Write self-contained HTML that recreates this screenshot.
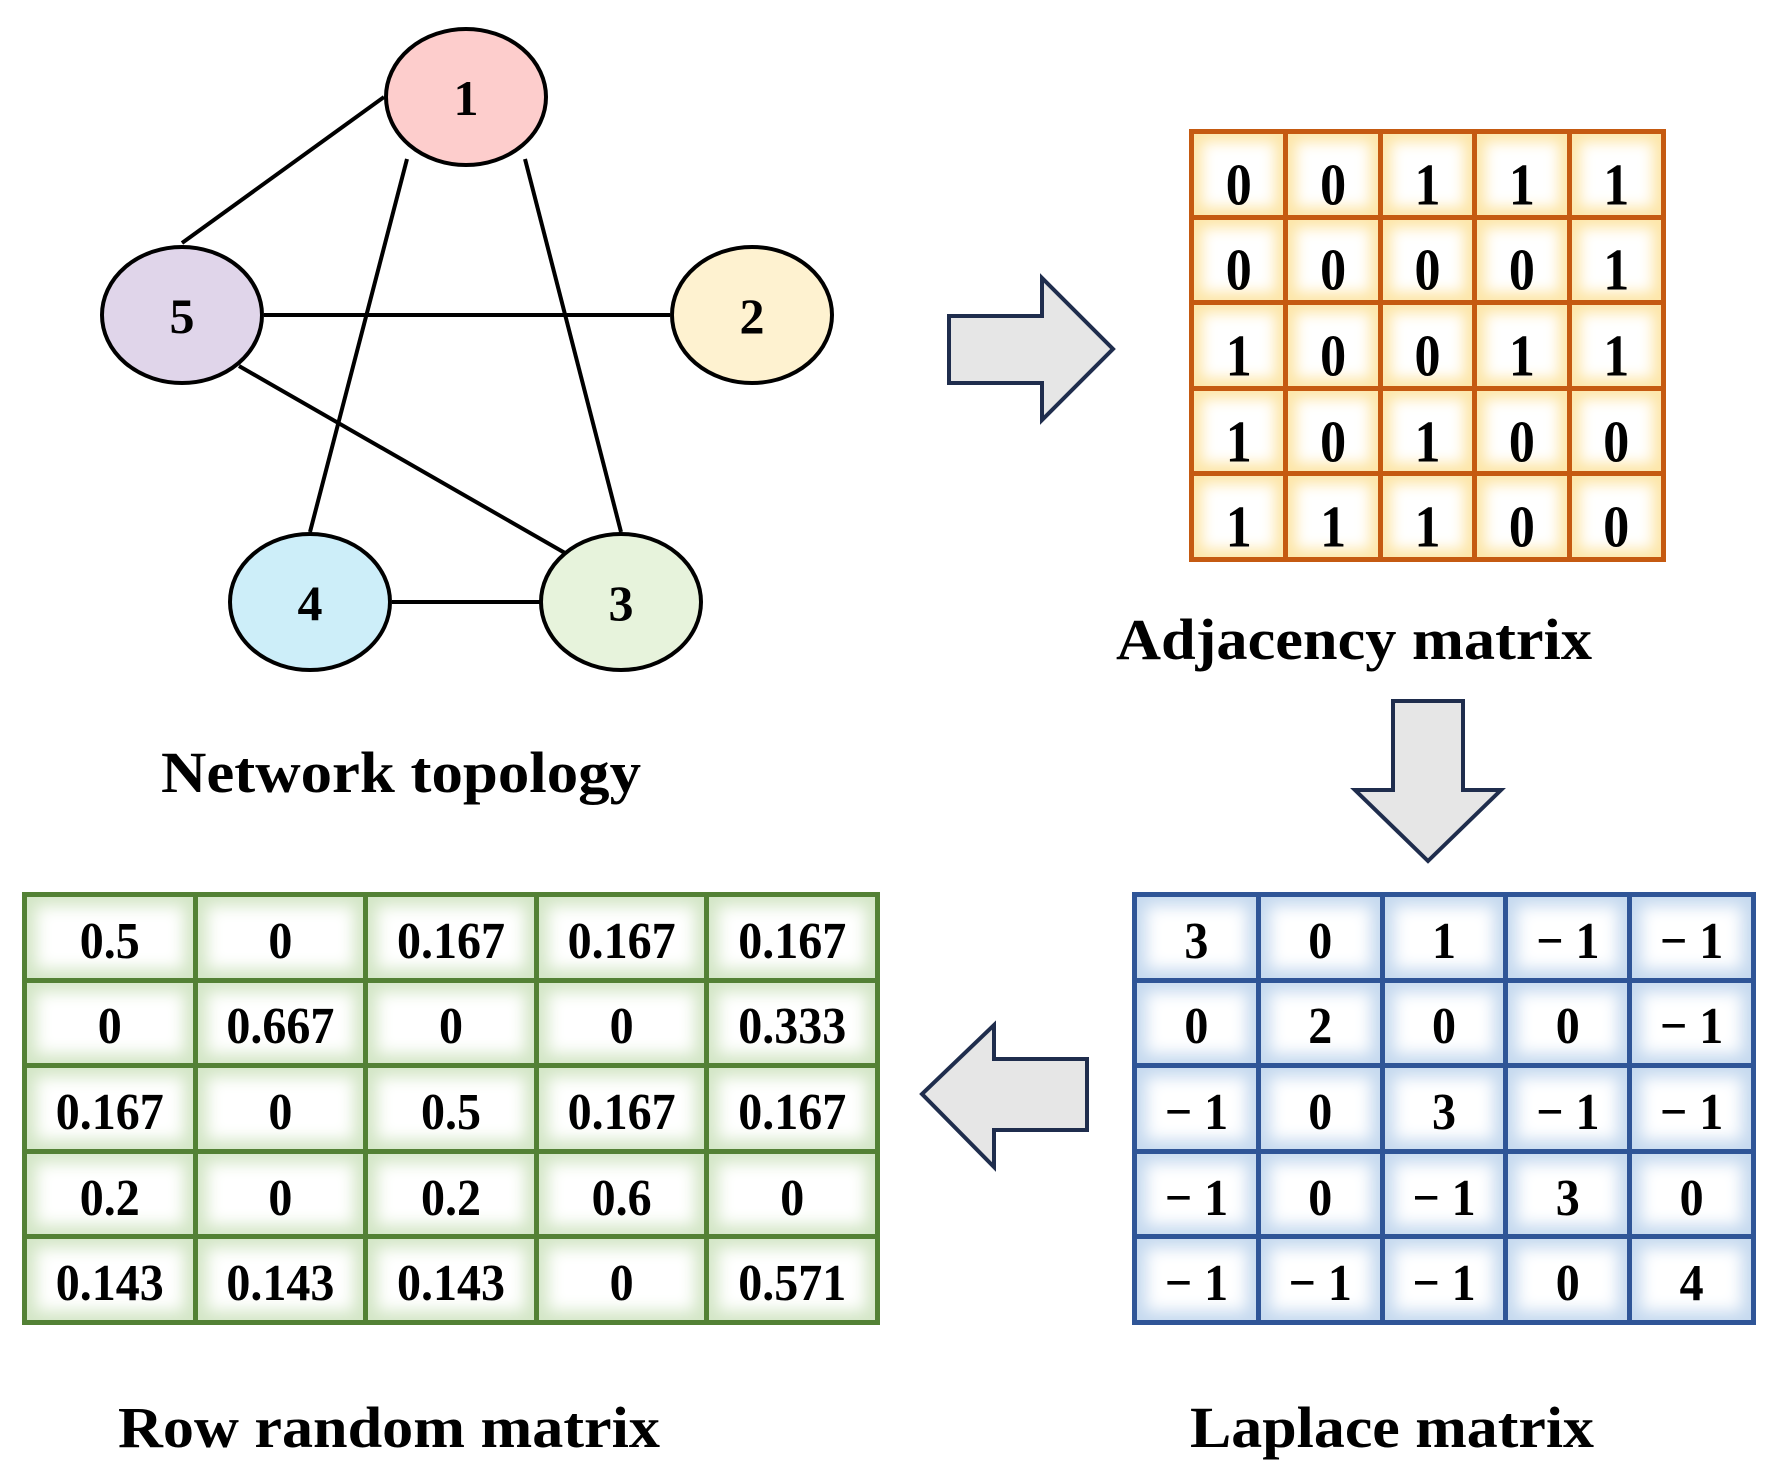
<!DOCTYPE html>
<html><head><meta charset="utf-8"><style>
body{margin:0;width:1778px;height:1479px;background:#fff;position:relative;overflow:hidden;font-family:"Liberation Serif",serif;}
.m{position:absolute;display:grid;box-sizing:border-box;gap:5px;padding:5px;}
.m div{background:#fff;display:flex;align-items:center;justify-content:center;font-weight:bold;color:#000;}
.m div span{display:inline-block;}
.a{left:1189px;top:129px;width:477px;height:433px;background:#c55a11;grid-template-columns:repeat(5,1fr);grid-template-rows:repeat(5,1fr);}
.a div{box-shadow:inset 0 0 14px 8px #fde6a8;font-size:52px;}
.a div span{transform:translateY(11px) scaleY(1.15);}
.l{left:1132px;top:892px;width:624px;height:433px;background:#2f5597;grid-template-columns:repeat(5,1fr);grid-template-rows:repeat(5,1fr);}
.l div{box-shadow:inset 0 0 16px 9px #c5d9ef;font-size:48px;}
.l div span,.r div span{transform:translateY(4px) scaleY(1.08);}
.r{left:22px;top:892px;width:858px;height:433px;background:#538135;grid-template-columns:repeat(5,1fr);grid-template-rows:repeat(5,1fr);}
.r div{box-shadow:inset 0 0 16px 9px #d3e6c6;font-size:48px;}
svg{position:absolute;left:0;top:0;}
</style></head><body>
<svg width="1778" height="1479" viewBox="0 0 1778 1479" font-family="Liberation Serif, serif" font-weight="bold">
<g stroke="#000" stroke-width="4" fill="none">
<line x1="384" y1="97" x2="182" y2="243"/>
<line x1="407" y1="159" x2="310" y2="532"/>
<line x1="525" y1="159" x2="621" y2="532"/>
<line x1="264" y1="315" x2="670" y2="315"/>
<line x1="239" y1="366" x2="565" y2="553"/>
<line x1="392" y1="602" x2="540" y2="602"/>
</g>
<g stroke="#000" stroke-width="4">
<ellipse cx="466" cy="97" rx="80" ry="68" fill="#fdcdcc"/>
<ellipse cx="182" cy="315" rx="80" ry="68" fill="#e0d5ea"/>
<ellipse cx="752" cy="315" rx="80" ry="68" fill="#fef2d0"/>
<ellipse cx="310" cy="602" rx="80" ry="68" fill="#cdeef9"/>
<ellipse cx="621" cy="602" rx="80" ry="68" fill="#e7f3dc"/>
</g>
<g font-size="50" text-anchor="middle">
<text x="466" y="115">1</text><text x="182" y="333">5</text><text x="752" y="333">2</text>
<text x="310" y="620">4</text><text x="621" y="620">3</text>
</g>
<g fill="#e6e6e6" stroke="#1f2d4d" stroke-width="4" stroke-linejoin="miter">
<polygon points="949,316 1042,316 1042,278 1113,349 1042,420 1042,383 949,383"/>
<polygon points="1393,701 1463,701 1463,790 1501,790 1428,861 1355,790 1393,790"/>
<polygon points="1087,1059 994,1059 994,1025 922,1094 994,1167 994,1130 1087,1130"/>
</g>
<g font-size="58" text-anchor="middle">
<text x="401" y="792" textLength="480" lengthAdjust="spacingAndGlyphs">Network topology</text>
<text x="1354" y="659" textLength="476" lengthAdjust="spacingAndGlyphs">Adjacency matrix</text>
<text x="1392" y="1447" textLength="404" lengthAdjust="spacingAndGlyphs">Laplace matrix</text>
<text x="389" y="1447" textLength="542" lengthAdjust="spacingAndGlyphs">Row random matrix</text>
</g>
</svg>
<div class="m a">
<div><span>0</span></div><div><span>0</span></div><div><span>1</span></div><div><span>1</span></div><div><span>1</span></div>
<div><span>0</span></div><div><span>0</span></div><div><span>0</span></div><div><span>0</span></div><div><span>1</span></div>
<div><span>1</span></div><div><span>0</span></div><div><span>0</span></div><div><span>1</span></div><div><span>1</span></div>
<div><span>1</span></div><div><span>0</span></div><div><span>1</span></div><div><span>0</span></div><div><span>0</span></div>
<div><span>1</span></div><div><span>1</span></div><div><span>1</span></div><div><span>0</span></div><div><span>0</span></div>
</div>
<div class="m l">
<div><span>3</span></div><div><span>0</span></div><div><span>1</span></div><div><span>− 1</span></div><div><span>− 1</span></div>
<div><span>0</span></div><div><span>2</span></div><div><span>0</span></div><div><span>0</span></div><div><span>− 1</span></div>
<div><span>− 1</span></div><div><span>0</span></div><div><span>3</span></div><div><span>− 1</span></div><div><span>− 1</span></div>
<div><span>− 1</span></div><div><span>0</span></div><div><span>− 1</span></div><div><span>3</span></div><div><span>0</span></div>
<div><span>− 1</span></div><div><span>− 1</span></div><div><span>− 1</span></div><div><span>0</span></div><div><span>4</span></div>
</div>
<div class="m r">
<div><span>0.5</span></div><div><span>0</span></div><div><span>0.167</span></div><div><span>0.167</span></div><div><span>0.167</span></div>
<div><span>0</span></div><div><span>0.667</span></div><div><span>0</span></div><div><span>0</span></div><div><span>0.333</span></div>
<div><span>0.167</span></div><div><span>0</span></div><div><span>0.5</span></div><div><span>0.167</span></div><div><span>0.167</span></div>
<div><span>0.2</span></div><div><span>0</span></div><div><span>0.2</span></div><div><span>0.6</span></div><div><span>0</span></div>
<div><span>0.143</span></div><div><span>0.143</span></div><div><span>0.143</span></div><div><span>0</span></div><div><span>0.571</span></div>
</div>
</body></html>
